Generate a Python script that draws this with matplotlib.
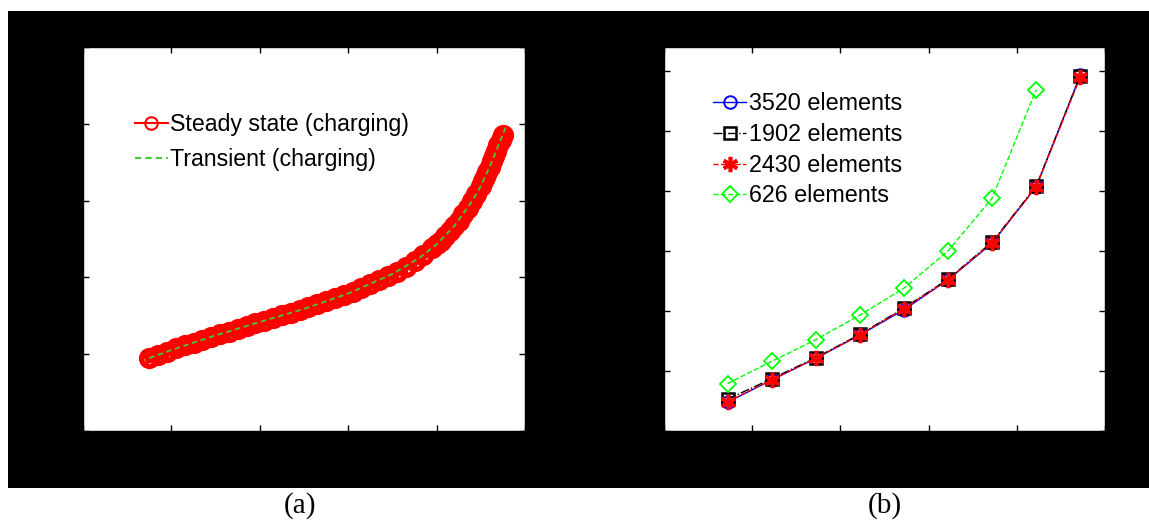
import matplotlib
matplotlib.use("Agg")
import matplotlib.pyplot as plt
from matplotlib.patches import Rectangle

# ---- panel (a): charging curves ----
steady_x = [0.75, 0.85, 0.95, 1.05, 1.15, 1.25, 1.35, 1.45, 1.55, 1.65,
            1.75, 1.85, 1.95, 2.05, 2.15, 2.25, 2.35, 2.45, 2.55, 2.65,
            2.75, 2.85, 2.95, 3.05, 3.15, 3.25, 3.35, 3.45, 3.55, 3.65,
            3.75, 3.85, 3.95, 4.00, 4.05, 4.10, 4.15, 4.20, 4.25, 4.30,
            4.35, 4.40, 4.45, 4.50, 4.525, 4.55, 4.575, 4.60, 4.625, 4.65,
            4.675, 4.70, 4.725, 4.75]
steady_y = [0.95, 0.995, 1.035, 1.075, 1.115, 1.15, 1.19, 1.225, 1.26, 1.295,
            1.33, 1.365, 1.40, 1.435, 1.47, 1.505, 1.54, 1.575, 1.61, 1.65,
            1.69, 1.73, 1.77, 1.815, 1.86, 1.91, 1.96, 2.015, 2.075, 2.14,
            2.21, 2.29, 2.38, 2.43, 2.48, 2.54, 2.60, 2.67, 2.74, 2.82,
            2.90, 2.99, 3.09, 3.19, 3.25, 3.31, 3.37, 3.44, 3.51, 3.58,
            3.65, 3.72, 3.79, 3.86]

transient_x = [0.75, 1.0, 1.5, 2.0, 2.5, 3.0, 3.5, 3.8, 4.0, 4.2,
               4.4, 4.5, 4.6, 4.7, 4.78]
transient_y = [0.95, 1.055, 1.245, 1.42, 1.59, 1.79, 2.045, 2.25, 2.43, 2.67,
               2.99, 3.19, 3.44, 3.72, 3.95]

labels_a = ["Steady state (charging)", "Transient (charging)"]

# ---- panel (b): mesh convergence ----
mesh_x = [0.72, 1.22, 1.72, 2.22, 2.72, 3.22, 3.72, 4.22, 4.72]
y_3520 = [0.48, 0.85, 1.21, 1.60, 2.02, 2.52, 3.13, 4.07, 5.93]
y_1902 = [0.53, 0.87, 1.22, 1.61, 2.05, 2.53, 3.15, 4.08, 5.92]
y_2430 = [0.49, 0.85, 1.21, 1.60, 2.04, 2.52, 3.14, 4.07, 5.90]
x_626 = [0.72, 1.22, 1.72, 2.22, 2.72, 3.22, 3.72, 4.22]
y_626 = [0.79, 1.16, 1.52, 1.93, 2.38, 3.00, 3.88, 5.69]
labels_b = ["3520 elements", "1902 elements", "2430 elements", "626 elements"]

W, H = 1149, 523
fig = plt.figure(figsize=(W / 100, H / 100), dpi=100, facecolor="white")

# dark figure canvas behind both panels
fig.patches.append(Rectangle((8 / W, 1 - 488 / H), 1 - 8 / W, (488 - 11) / H,
                             transform=fig.transFigure, facecolor="black",
                             edgecolor="none", zorder=-10))

ax_a = fig.add_axes([83 / W, 1 - 431 / H, 442 / W, 384 / H])
ax_b = fig.add_axes([664 / W, 1 - 431 / H, 441 / W, 384 / H])

for ax in (ax_a, ax_b):
    ax.set_zorder(1)
    ax.set_facecolor("white")
    ax.tick_params(direction="in", length=4.5, width=1, color="black",
                   top=True, right=True, labelbottom=False, labelleft=False)
    for s in ax.spines.values():
        s.set_color("black")
        s.set_linewidth(1)

red = (1.0, 0.0, 0.0)
green = (0.0, 1.0, 0.0)

ax_a.plot(steady_x, steady_y, "-o", color=red, lw=7, ms=11.5, mew=3.8,
          mfc="none", mec=red, label=labels_a[0])
ax_a.plot(transient_x, transient_y, "--", color=(0.25, 0.8, 0.2), lw=1.3,
          dashes=(3, 2), label=labels_a[1])
ax_a.set_xlim(0, 5)
ax_a.set_ylim(0, 5)
ax_a.set_xticks([0, 1, 2, 3, 4, 5])
ax_a.set_yticks([0, 1, 2, 3, 4, 5])

leg_a = ax_a.legend(loc="upper left", bbox_to_anchor=(0.118, 0.829),
                    frameon=False, borderpad=0, borderaxespad=0,
                    handlelength=1.4, handletextpad=0.12, labelspacing=0.52,
                    prop={"family": "Liberation Sans", "size": 16.7})
for h in leg_a.legend_handles:
    h.set_linewidth(1.5)
    h.set_markersize(9)
    h.set_markeredgewidth(1.5)

ax_b.plot(mesh_x, y_3520, "-o", color=(0, 0, 1), lw=1, ms=9, mew=1.4,
          mfc="none", label=labels_b[0])
ax_b.plot(mesh_x, y_1902, "-.s", color="black", lw=1, ms=9, mew=1.8,
          mfc="none", label=labels_b[1])
ax_b.plot(mesh_x, y_2430, "--", color=red, lw=1, marker=(6, 2, 0), ms=11,
          mew=2.6, label=labels_b[2])
ax_b.plot(x_626, y_626, "--D", color=green, lw=1, ms=8, mew=1.3,
          mfc="none", label=labels_b[3])
ax_b.set_xlim(0, 5)
ax_b.set_ylim(0, 6.4)
ax_b.set_xticks([0, 1, 2, 3, 4, 5])
ax_b.set_yticks([0, 1, 2, 3, 4, 5, 6])

ax_b.legend(loc="upper left", bbox_to_anchor=(0.112, 0.882),
            frameon=False, borderpad=0, borderaxespad=0,
            handlelength=1.4, handletextpad=0.12, labelspacing=0.33,
            prop={"family": "Liberation Sans", "size": 16.8})

fig.text(300 / W, 1 - 506 / H, "(a)", ha="center", va="center",
         family="Liberation Serif", fontsize=21)
fig.text(885 / W, 1 - 506 / H, "(b)", ha="center", va="center",
         family="Liberation Serif", fontsize=21)

fig.savefig("out.png", dpi=100, facecolor="white")
